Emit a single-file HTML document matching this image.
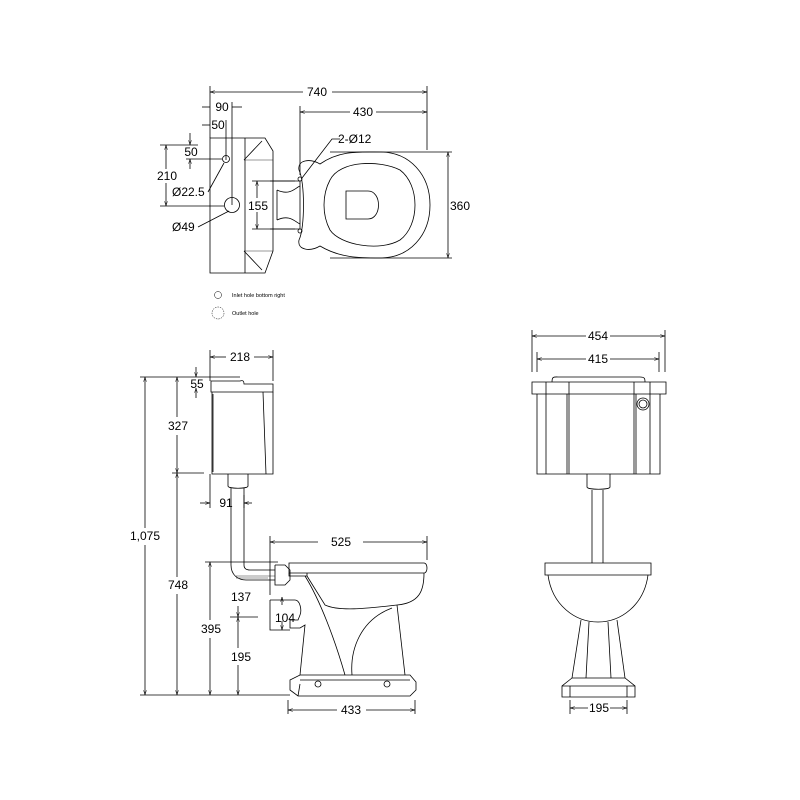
<!DOCTYPE html>
<html><head><style>
html,body{margin:0;padding:0;background:#fff;}
svg{display:block;}
text{font-family:"Liberation Sans",sans-serif;font-size:12px;fill:#000;}
.s{font-size:5.5px;}
</style></head><body>
<svg width="800" height="800" viewBox="0 0 800 800" xmlns="http://www.w3.org/2000/svg">
<defs>
<marker id="a" viewBox="0 0 10 10" refX="10" refY="5" markerWidth="6" markerHeight="6" orient="auto-start-reverse"><path d="M0,2 L10,5 L0,8" fill="none" stroke="#000"/></marker>
</defs>
<g fill="none" stroke="#000" stroke-width="0.8">
<!-- TOP VIEW dims -->
<line x1="210" y1="86" x2="210" y2="138"/><line x1="427" y1="86" x2="427" y2="150"/>
<line x1="210" y1="92" x2="303" y2="92" marker-start="url(#a)"/><line x1="332" y1="92" x2="427" y2="92" marker-end="url(#a)"/>
<line x1="300" y1="106" x2="300" y2="175"/>
<line x1="300" y1="112" x2="350" y2="112" marker-start="url(#a)"/><line x1="376" y1="112" x2="427" y2="112" marker-end="url(#a)"/>
<line x1="202" y1="107" x2="210" y2="107"/><line x1="232" y1="107" x2="242" y2="107"/><line x1="232" y1="102" x2="232" y2="205"/>
<line x1="202" y1="125" x2="210" y2="125"/><line x1="226" y1="120" x2="226" y2="160"/>
<line x1="160" y1="145" x2="198" y2="145"/><line x1="160" y1="206" x2="224" y2="206"/>
<line x1="166" y1="145" x2="166" y2="206" marker-start="url(#a)" marker-end="url(#a)"/>
<line x1="190" y1="133" x2="190" y2="145" marker-end="url(#a)"/><line x1="190" y1="169" x2="190" y2="159" marker-end="url(#a)"/>
<line x1="186" y1="159" x2="222" y2="159"/>
<line x1="208" y1="192" x2="224" y2="163"/><line x1="198" y1="227" x2="229" y2="211"/>
<line x1="252" y1="181" x2="295" y2="181"/><line x1="252" y1="229" x2="295" y2="229"/>
<line x1="257" y1="181" x2="257" y2="229" marker-start="url(#a)" marker-end="url(#a)"/>
<line x1="330" y1="152" x2="452" y2="152"/><line x1="330" y1="258" x2="452" y2="258"/>
<line x1="448" y1="152" x2="448" y2="258" marker-start="url(#a)" marker-end="url(#a)"/>
<polyline points="340,139 332,139 302,178"/>
<!-- tank top view -->
<path d="M210,138 H265 L273,151 V251 L265,273 H210 Z"/>
<path d="M245,138 V273"/>
<path d="M244,160 L262,141 M244,251 L262,270"/>
<path d="M244,160 H273 M244,251 H273" stroke-width="0.4"/>
<circle cx="226" cy="159" r="3.5"/><circle cx="232" cy="205" r="7.5"/>
<!-- connector -->
<path d="M270,181 H300 V229 H270"/>
<path d="M277,190 C290,196 295,188 300,186 M277,220 C290,214 295,222 300,224 M277,190 V220"/>
<!-- bowl top view -->
<path d="M299,170 C297,160 310,158 320,164 C340,150 360,152 380,152 C410,152 430,175 430,205 C430,235 410,258 380,258 C360,258 340,258 320,246 C310,252 297,250 299,240 C305,228 305,182 299,170 Z"/>
<path d="M330,180 C340,160 380,160 400,170 C420,185 420,225 400,240 C380,252 340,245 330,230 C322,215 322,195 330,180 Z"/>
<path d="M346,191 H368 C382,191 382,219 368,219 H346 Z"/>
<circle cx="300" cy="179" r="2"/><circle cx="300" cy="231" r="2"/>
<circle cx="218" cy="295" r="3.5" stroke-width="0.5"/><circle cx="218" cy="313" r="6" stroke-width="0.5" stroke-dasharray="1.5,1"/>
<!-- SIDE VIEW dims -->
<line x1="210" y1="350" x2="210" y2="381"/><line x1="273" y1="350" x2="273" y2="381"/>
<line x1="210" y1="357" x2="226" y2="357" marker-start="url(#a)"/><line x1="254" y1="357" x2="273" y2="357" marker-end="url(#a)"/>
<line x1="140" y1="377" x2="240" y2="377"/><line x1="140" y1="695" x2="290" y2="695"/>
<line x1="145" y1="377" x2="145" y2="528" marker-start="url(#a)"/><line x1="145" y1="545" x2="145" y2="695" marker-end="url(#a)"/>
<line x1="177" y1="377" x2="177" y2="417" marker-start="url(#a)"/><line x1="177" y1="435" x2="177" y2="473" marker-end="url(#a)"/>
<line x1="172" y1="473" x2="204" y2="473"/>
<line x1="177" y1="473" x2="177" y2="577" marker-start="url(#a)"/><line x1="177" y1="594" x2="177" y2="695" marker-end="url(#a)"/>
<line x1="196" y1="367" x2="196" y2="377" marker-end="url(#a)"/><line x1="196" y1="398" x2="196" y2="388" marker-end="url(#a)"/>
<line x1="205" y1="562" x2="278" y2="562"/>
<line x1="210" y1="562" x2="210" y2="620" marker-start="url(#a)"/><line x1="210" y1="638" x2="210" y2="695" marker-end="url(#a)"/>
<line x1="230" y1="617" x2="258" y2="617"/>
<line x1="238" y1="606" x2="238" y2="617" marker-end="url(#a)"/>
<line x1="238" y1="617" x2="238" y2="648" marker-start="url(#a)"/><line x1="238" y1="665" x2="238" y2="695" marker-end="url(#a)"/>
<line x1="210" y1="474" x2="210" y2="508"/>
<line x1="200" y1="503" x2="210" y2="503" marker-end="url(#a)"/><line x1="252" y1="503" x2="244" y2="503" marker-end="url(#a)"/><line x1="244" y1="495" x2="244" y2="508"/>
<line x1="270" y1="536" x2="270" y2="595"/><line x1="427" y1="536" x2="427" y2="560"/>
<line x1="270" y1="542" x2="318" y2="542" marker-start="url(#a)"/><line x1="363" y1="542" x2="427" y2="542" marker-end="url(#a)"/>
<line x1="282" y1="605" x2="282" y2="597" marker-end="url(#a)"/><line x1="282" y1="621" x2="282" y2="630" marker-end="url(#a)"/>
<line x1="288" y1="700" x2="288" y2="714"/><line x1="415" y1="700" x2="415" y2="714"/>
<line x1="288" y1="710" x2="337" y2="710" marker-start="url(#a)"/><line x1="366" y1="710" x2="415" y2="710" marker-end="url(#a)"/>
<!-- tank side -->
<path d="M211,381 H240 C243,380 244,381 244,384 H273 V392 H211 Z"/>
<path d="M212,392 V474 H273 V392 M263,392 L266,474 M213,394 V472"/>
<path d="M228,474 V486 C228,489 248,489 248,486 V474"/>
<path d="M231,488 V565 C231,575 238,580 246,580 H275 M244,488 V565 C244,568 246,570 250,570 H275"/>
<path d="M236,576 H275 M236,578 H268" stroke-width="0.4"/>
<path d="M275,565 H285 L290,570 V580 L285,585 H275 V565"/>
<!-- bowl side -->
<path d="M289,563 H424 C428,563 428,573 424,573 H289 Z"/>
<path d="M289,573 V576 H307 V573"/>
<path d="M305,576 C320,600 335,640 345,675 M424,573 C424,590 420,603 397,605 C370,608 340,612 325,605 L307,576"/>
<path d="M397,605 L405,675 M392,608 C360,620 350,650 352,675"/>
<path d="M270,600 H295 C300,600 302,610 300,615 L298,620 H290 V628 H300 L305,625 L300,675 M270,600 V630 H290"/>
<path d="M290,680 L300,675 H410 L416,682 V690 L410,696 H298 L290,690 Z M300,680 H410 M298,696 L300,684"/>
<circle cx="318" cy="684" r="3"/><circle cx="387" cy="684" r="3"/>
<!-- FRONT VIEW dims -->
<line x1="532" y1="330" x2="532" y2="372"/><line x1="665" y1="330" x2="665" y2="372"/>
<line x1="532" y1="336" x2="586" y2="336" marker-start="url(#a)"/><line x1="610" y1="336" x2="665" y2="336" marker-end="url(#a)"/>
<line x1="537" y1="352" x2="537" y2="372"/><line x1="659" y1="352" x2="659" y2="372"/>
<line x1="537" y1="359" x2="586" y2="359" marker-start="url(#a)"/><line x1="610" y1="359" x2="659" y2="359" marker-end="url(#a)"/>
<line x1="570" y1="700" x2="570" y2="714"/><line x1="627" y1="700" x2="627" y2="714"/>
<line x1="570" y1="708" x2="588" y2="708" marker-start="url(#a)"/><line x1="610" y1="708" x2="627" y2="708" marker-end="url(#a)"/>
<!-- front tank -->
<path d="M552,382 C552,376 554,377 560,377 H640 C645,377 645,379 645,382"/>
<path d="M532,382 H666 V394 H532 Z"/>
<path d="M537,394 V474 H660 V394 M546,382 V474 M569,382 V474 M567,394 V474 M634,382 V474 M636,394 V474 M650,382 V474"/>
<circle cx="643" cy="404" r="6"/><circle cx="643" cy="404" r="4"/>
<path d="M587,474 V487 C587,490 610,490 610,487 V474"/>
<path d="M592,490 V563 M603,490 V563"/>
<!-- front bowl -->
<path d="M545,563 H651 V575 H545 Z"/>
<path d="M548,575 C552,605 575,622 598,622 C621,622 644,605 648,575"/>
<path d="M581,620 L572,678 M617,620 L625,678 M589,622 L586,678 M608,622 L611,678"/>
<path d="M572,678 L562,686 V697 H635 V686 L625,678 Z M562,686 H635 M570,686 V697 M627,686 V697"/>
</g>
<rect x="247" y="198" width="22" height="14" fill="#fff"/>
<rect x="157" y="169" width="20" height="14" fill="#fff"/>
<g>
<text x="317" y="96" text-anchor="middle">740</text>
<text x="363" y="116" text-anchor="middle">430</text>
<text x="222" y="111" text-anchor="middle">90</text>
<text x="218" y="129" text-anchor="middle">50</text>
<text x="191" y="156" text-anchor="middle">50</text>
<text x="167" y="180" text-anchor="middle">210</text>
<text x="172" y="196">Ø22.5</text>
<text x="172" y="231">Ø49</text>
<text x="258" y="210" text-anchor="middle">155</text>
<text x="338" y="143">2-Ø12</text>
<text x="450" y="210">360</text>
<text x="232" y="297" class="s">Inlet hole bottom right</text>
<text x="232" y="315" class="s">Outlet hole</text>
<text x="240" y="361" text-anchor="middle">218</text>
<text x="197" y="388" text-anchor="middle">55</text>
<text x="178" y="430" text-anchor="middle">327</text>
<text x="145" y="540" text-anchor="middle">1,075</text>
<text x="178" y="589" text-anchor="middle">748</text>
<text x="226" y="507" text-anchor="middle">91</text>
<text x="341" y="546" text-anchor="middle">525</text>
<text x="241" y="601" text-anchor="middle">137</text>
<text x="285" y="622" text-anchor="middle">104</text>
<text x="211" y="633" text-anchor="middle">395</text>
<text x="241" y="661" text-anchor="middle">195</text>
<text x="351" y="714" text-anchor="middle">433</text>
<text x="598" y="340" text-anchor="middle">454</text>
<text x="598" y="363" text-anchor="middle">415</text>
<text x="599" y="712" text-anchor="middle">195</text>
</g>
</svg>
</body></html>
